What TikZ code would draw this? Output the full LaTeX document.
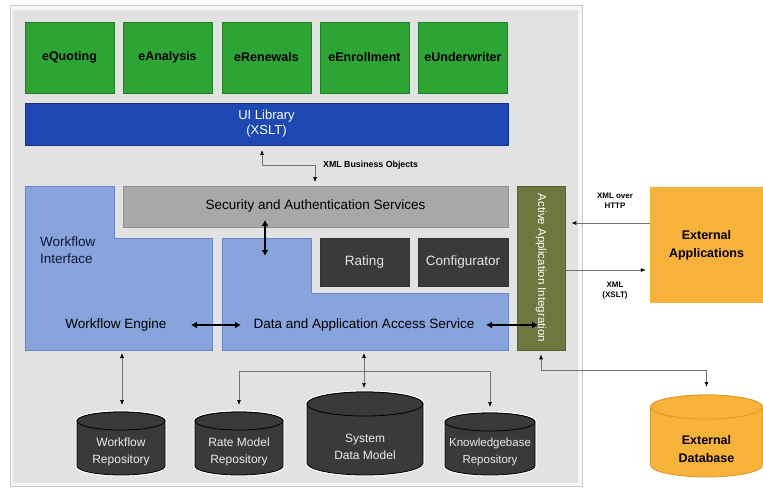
\documentclass[tikz,border=0pt]{standalone}
\usepackage{fontspec}
\setmainfont{Liberation Sans}
\usetikzlibrary{arrows.meta}
\definecolor{panelc}{RGB}{226,226,226}
\definecolor{panelb}{RGB}{200,200,200}
\definecolor{gr}{RGB}{44,165,52}
\definecolor{grd}{RGB}{30,130,38}
\definecolor{uib}{RGB}{30,72,178}
\definecolor{uibd}{RGB}{20,50,140}
\definecolor{lb}{RGB}{135,165,220}
\definecolor{lbd}{RGB}{105,135,200}
\definecolor{secg}{RGB}{168,168,168}
\definecolor{secgd}{RGB}{145,145,145}
\definecolor{dk}{RGB}{58,58,58}
\definecolor{olive}{RGB}{108,120,62}
\definecolor{orng}{RGB}{247,178,58}
\definecolor{orngd}{RGB}{222,150,40}
\definecolor{linec}{RGB}{115,115,115}
\definecolor{navytxt}{RGB}{15,22,50}
\newcommand\fsz[2]{\fontsize{#1}{#2}\selectfont}
\newcommand\cylbody[6]{%
  \path[#6] ({#1-#2},{#3+#5}) -- ({#1-#2},{#4-#5})
    arc[start angle=180,end angle=360,x radius=#2pt,y radius=#5pt]
    -- ({#1+#2},{#3+#5})
    arc[start angle=0,end angle=180,x radius=#2pt,y radius=#5pt] -- cycle;
  \path[#6] (#1,{#3+#5}) ellipse[x radius=#2pt, y radius=#5pt];
}
\begin{document}
\begin{tikzpicture}[x=1pt,y=-1pt,
  gbox/.style={rectangle, fill=gr, draw=grd, line width=0.6pt, minimum width=89pt, minimum height=71pt, inner sep=0pt, font=\bfseries\fsz{12.5}{15}},
  plain/.style={rectangle, inner sep=0pt, outer sep=0pt},
  dkbox/.style={rectangle, fill=dk, draw=black!80, line width=0.6pt, inner sep=0pt, minimum height=48pt, text=white!90!black, font=\fsz{13.5}{15}},
  small/.style={inner sep=0pt, align=center, font=\bfseries\fsz{8}{10}},
  cyltxt/.style={inner sep=0pt, align=center, text=white!92!black, font=\fsz{12}{17}},
  tip/.tip={Latex[length=5pt,width=4pt,color=black]},
  thinl/.style={draw=linec, line width=0.7pt},
  dbl/.style={draw=black, line width=2.2pt, {Latex[length=6pt,width=7pt]}-{Latex[length=6pt,width=7pt]}},
  halo/.style={draw=white, line width=3pt},
  cylst/.style={fill=dk, draw=black, line width=0.8pt},
  ocylst/.style={fill=orng, draw=orngd, line width=0.8pt}
]
\useasboundingbox (0,0) rectangle (763,492);
\fill[white] (0,0) rectangle (763,492);
% panel
\draw[draw=panelb, line width=1pt, fill=white!97!black] (10,6) rectangle (582,486);
\fill[panelc] (13,10) rectangle (578,483);

% green apps
\node[gbox] (eq) at (69.5,57.5) {eQuoting};
\node[gbox] (ean) at (167.5,57.5) {eAnalysis};
\node[gbox] (ere) at (266.5,57.5) {eRenewals};
\node[gbox] (een) at (364.5,57.5) {eEnrollment};
\node[gbox] (eun) at (463,57.5) {eUnderwriter};

% UI library
\node[rectangle, fill=uib, draw=uibd, line width=0.6pt, minimum width=483pt, minimum height=42pt, inner sep=0pt, align=center, text=white, font=\fsz{13}{15}] (ui) at (266.5,124) {UI Library\\(XSLT)};

% L shapes
\filldraw[fill=lb, draw=lbd, line width=0.6pt] (25,186) -- (114,186) -- (114,238) -- (212,238) -- (212,350) -- (25,350) -- cycle;
\filldraw[fill=lb, draw=lbd, line width=0.6pt] (222,238) -- (311,238) -- (311,293) -- (508,293) -- (508,350) -- (222,350) -- cycle;

% security
\node[rectangle, fill=secg, draw=secgd, line width=0.6pt, minimum width=385pt, minimum height=41pt, inner sep=0pt, font=\fsz{13.5}{15}] (sec) at (315.5,206.5) {Security and Authentication Services};

% rating / configurator
\node[dkbox, minimum width=89pt] (rat) at (364.5,262) {Rating};
\node[dkbox, minimum width=90pt] (cfg) at (463,262) {Configurator};

% olive bar
\node[rectangle, fill=olive, draw=olive!80!black, line width=0.6pt, minimum width=48pt, minimum height=164pt, inner sep=0pt] (aai) at (541,268) {};
\node[inner sep=0pt, rotate=-90, text=white, font=\fsz{11.5}{13}] (aait) at (541,268) {Active Application Integration};

% texts in L shapes
\node[plain, anchor=west, align=left, text=navytxt, font=\fsz{13.5}{17}] (wi) at (40,250.5) {Workflow\\Interface};
\node[plain, font=\fsz{13.5}{15}] (we) at (116,325) {Workflow Engine};
\node[plain, font=\fsz{13.5}{15}] (da) at (364,325) {Data and Application Access Service};

% external applications
\node[rectangle, fill=orng, inner sep=0pt, minimum width=113pt, minimum height=116pt, align=center, font=\bfseries\fsz{12.5}{18}] (ea) at (706.5,245) {External\\Applications};

% cylinders
\cylbody{121}{44}{412}{475}{9}{halo}
\cylbody{121}{44}{412}{475}{9}{cylst}
\cylbody{239}{44}{412}{475}{9}{halo}
\cylbody{239}{44}{412}{475}{9}{cylst}
\cylbody{365}{58}{392}{475}{12}{halo}
\cylbody{365}{58}{392}{475}{12}{cylst}
\cylbody{490}{45}{413}{475}{9}{halo}
\cylbody{490}{45}{413}{475}{9}{cylst}
\cylbody{706.5}{56}{395}{477}{12}{ocylst}

\node[plain, minimum width=88pt, minimum height=63pt] (wr) at (121,443.5) {};
\node[plain, minimum width=88pt, minimum height=63pt] (rm) at (239,443.5) {};
\node[plain, minimum width=116pt, minimum height=83pt] (sdm) at (365,433.5) {};
\node[plain, minimum width=90pt, minimum height=62pt] (kb) at (490,444) {};
\node[plain, minimum width=112pt, minimum height=82pt] (edb) at (706.5,436) {};

\node[cyltxt] (wrt) at (121,452) {Workflow\\Repository};
\node[cyltxt] (rmt) at (239,452) {Rate Model\\Repository};
\node[cyltxt] (sdmt) at (365,447) {System\\Data Model};
\node[cyltxt, font=\fsz{11.5}{17}] (kbt) at (490,452) {Knowledgebase\\Repository};
\node[inner sep=0pt, align=center, font=\bfseries\fsz{12.5}{18}] (edbt) at (706.5,449.5) {External\\Database};

% thick double arrows
\coordinate (d1a) at (191,325); \coordinate (d1b) at (241,325);
\coordinate (d2a) at (486,325); \coordinate (d2b) at (538,325);
\coordinate (d3a) at (265,220); \coordinate (d3b) at (265,256);
\draw[dbl] (d1a) -- (d1b);
\draw[dbl] (d2a) -- (d2b);
\draw[dbl] (d3a) -- (d3b);

% XML business objects connector
\coordinate (xa) at (262,150);
\coordinate (xm) at (262,165);
\coordinate (xb) at (315,182);
\draw[thinl, {tip}-{tip}] (xa) -- (xm) -| (xb);
\node[small, anchor=west, font=\bfseries\fsz{8.8}{10}] (xbo) at (323,165) {XML Business Objects};

% external applications connectors
\coordinate (h1) at (0,223);
\coordinate (h2) at (0,270);
\draw[thinl, -{tip}, shorten >=6pt] (ea.west |- h1) -- (aai.east |- h1);
\draw[thinl, -{tip}, shorten <=1pt, shorten >=4pt] (aai.east |- h2) -- (ea.west |- h2);
\node[small] (l1) at (615,201) {XML over\\HTTP};
\node[small] (l2) at (615,291) {XML\\(XSLT)};

% repository connectors
\coordinate (wib) at (122,350);
\coordinate (dab) at (364,350);
\coordinate (br) at (364,371);
\coordinate (hy) at (0,370);
\draw[thinl, {tip}-{tip}, shorten <=3pt, shorten >=7pt] (wib) -- (wib |- wr.north);
\draw[thinl, {tip}-{tip}, shorten <=3pt, shorten >=4pt] (dab) -- (dab |- sdm.north);
\draw[thinl, -{tip}, shorten >=7pt] (br) -| (rm.north);
\draw[thinl, -{tip}, shorten >=6pt] (br) -| (kb.north);
\draw[thinl, {tip}-{tip}, shorten <=4pt, shorten >=8pt] (aai.south) |- (edb.north |- hy) -- (edb.north);
\end{tikzpicture}
\end{document}
